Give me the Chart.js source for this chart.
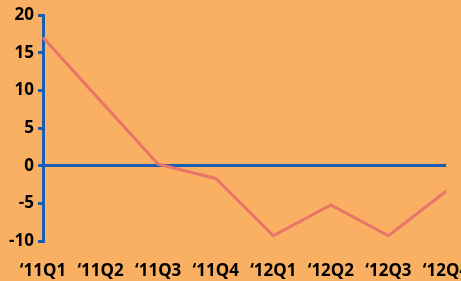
<!DOCTYPE html>
<html>
<head>
<meta charset="utf-8">
<script src="https://cdn.jsdelivr.net/npm/chart.js@4/dist/chart.umd.min.js"></script>
<style>
  html, body { margin: 0; padding: 0; background: #FAB063; }
  #wrap { width: 461px; height: 281px; position: relative; }
</style>
</head>
<body>
<div id="wrap"><canvas id="chart"></canvas></div>
<script>
  const quarters = ["\u201811Q1", "\u201811Q2", "\u201811Q3", "\u201811Q4", "\u201812Q1", "\u201812Q2", "\u201812Q3", "\u201812Q4"];
  const growth = [17.0, 8.6, 0.2, -1.7, -9.3, -5.2, -9.3, -3.4];
  const yTicks = [20, 15, 10, 5, 0, -5, -10];

  const blue = "#1A5DB4";
  const font = { family: "'Noto Sans', sans-serif", size: 17, weight: "bold" };

  new Chart(document.getElementById("chart"), {
    type: "line",
    data: {
      labels: quarters,
      datasets: [{
        data: growth,
        borderColor: "#E9746A",
        borderWidth: 3,
        pointRadius: 0,
        tension: 0,
      }],
    },
    options: {
      responsive: true,
      maintainAspectRatio: false,
      animation: false,
      layout: { padding: { top: 15, right: 15, left: 0, bottom: 0 } },
      plugins: { legend: { display: false }, tooltip: { enabled: false } },
      scales: {
        x: {
          offset: false,
          grid: { display: false },
          border: { display: false },
          ticks: { color: "#000", font, padding: 12, maxRotation: 0, autoSkip: false },
          afterFit: (s) => { s.height = 40; s.paddingLeft = 0; s.paddingRight = 0; },
        },
        y: {
          min: -10,
          max: 20,
          afterBuildTicks: (s) => { s.ticks = yTicks.map((v) => ({ value: v })); },
          grid: {
            color: (c) => (c.tick && c.tick.value === 0 ? blue : "rgba(0,0,0,0)"),
            lineWidth: 3,
            tickColor: blue,
            tickLength: 5,
            tickWidth: 3,
          },
          border: { color: blue, width: 3 },
          ticks: { color: "#000", font, padding: 4 },
          afterFit: (s) => { s.width = 43; },
        },
      },
    },
  });
</script>
</body>
</html>
